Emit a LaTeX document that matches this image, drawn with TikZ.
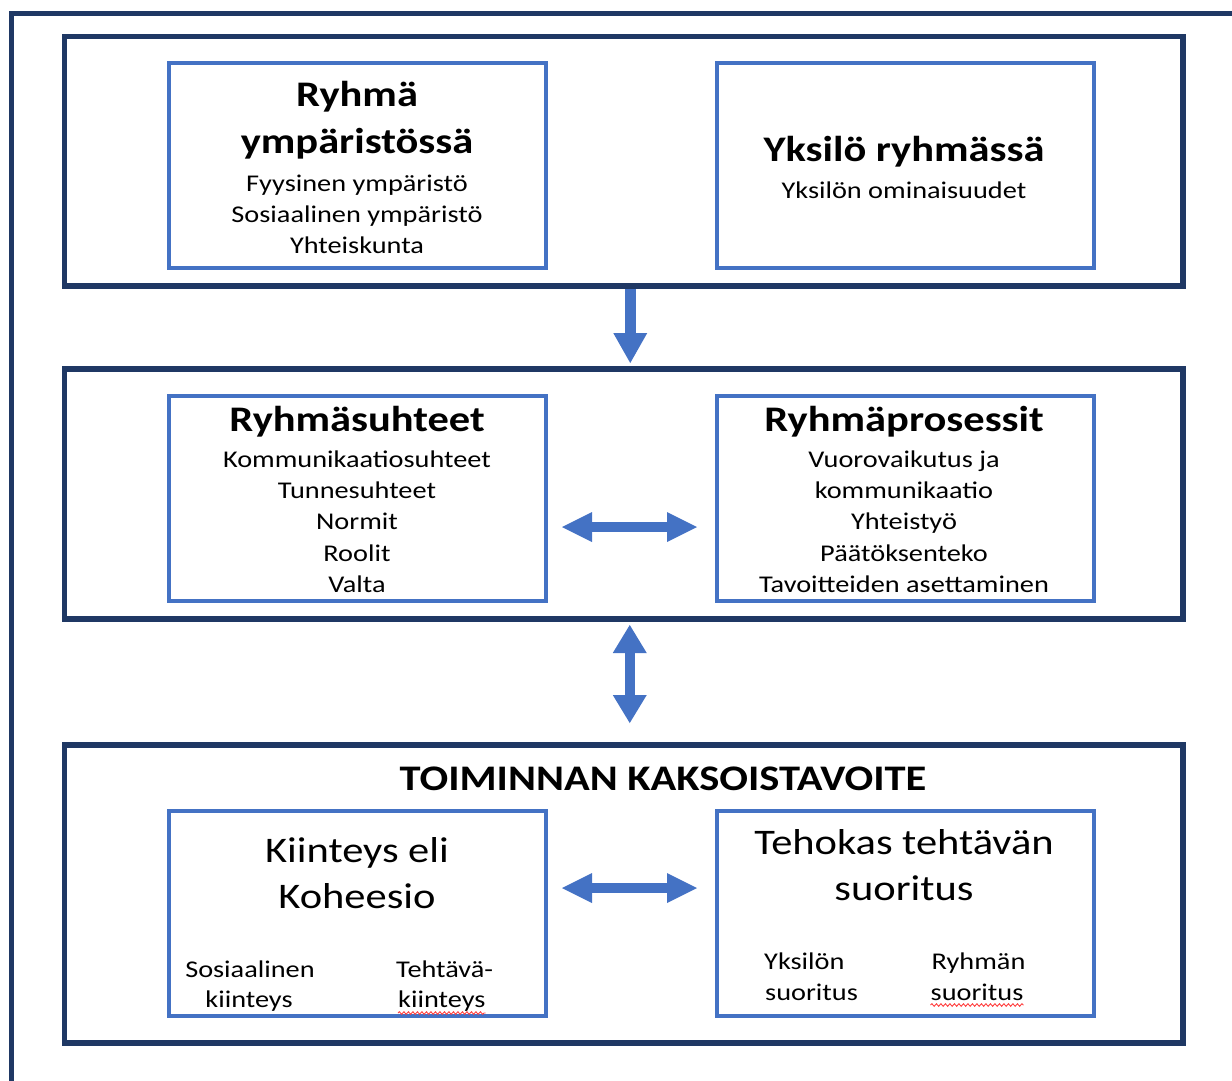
\documentclass[tikz,border=0pt]{standalone}
\usepackage{fontspec}
\setmainfont{Carlito}[FakeStretch=1.18]
\usetikzlibrary{arrows.meta,decorations.pathmorphing}
\definecolor{navy}{HTML}{1F3864}
\definecolor{boxblue}{HTML}{4472C4}
\definecolor{squigred}{HTML}{FF4040}

\begin{document}
\begin{tikzpicture}[x=1pt,y=-1pt,
  panel/.style={draw=navy, line width=5.5pt, inner sep=0pt, outer sep=0pt, minimum width=1118.5pt},
  card/.style={draw=boxblue, line width=4pt, inner sep=0pt, outer sep=0pt, minimum width=377pt, minimum height=205pt},
  head/.style={anchor=base, inner sep=0pt, font=\fontsize{36pt}{44pt}\selectfont\bfseries},
  big/.style={anchor=base, inner sep=0pt, font=\fontsize{36pt}{44pt}\selectfont},
  item/.style={anchor=base, inner sep=0pt, font=\fontsize{24pt}{31pt}\selectfont},
  downarrow/.style={draw=boxblue, line width=11pt,
    -{Triangle[length=30pt,width=34pt,line width=0pt]}},
  sidearrows/.style={draw=boxblue, line width=10pt,
    {Triangle[length=30pt,width=30pt,line width=0pt]}-{Triangle[length=30pt,width=30pt,line width=0pt]}},
  uparrows/.style={draw=boxblue, line width=10pt,
    {Triangle[length=28pt,width=34pt,line width=0pt]}-{Triangle[length=28pt,width=34pt,line width=0pt]}},
  squiggle/.style={draw=squigred, line width=0.9pt, decorate,
    decoration={snake, amplitude=1.3pt, segment length=4.5pt}},
]
\useasboundingbox (0,0) rectangle (1232,1080);

% outer frame, open to the right and bottom
\draw[navy, line width=5.5pt] (11.5,1090) -- (11.5,13.5) -- (1240,13.5);

% three panels
\node[panel, minimum height=249.5pt] (p1) at (623.75,161.25) {};
\node[panel, minimum height=250pt]   (p2) at (623.75,494) {};
\node[panel, minimum height=298pt]   (p3) at (623.75,894) {};

% inner cards
\node[card] (ca) at (357,165.75) {};
\node[card] (cb) at (905.5,165.75) {};
\node[card] (cc) at (357,498.5) {};
\node[card] (cd) at (905.5,498.5) {};
\node[card] (ce) at (357,913) {};
\node[card] (cf) at (905.5,913) {};

% card: group in its environment
\node[head] (a1) at (357,106.5) {Ryhmä};
\node[head] (a2) at (357,153.5) {ympäristössä};
\node[item] (a3) at (357,191) {Fyysinen ympäristö};
\node[item] (a4) at (357,222) {Sosiaalinen ympäristö};
\node[item] (a5) at (357,253) {Yhteiskunta};

% card: individual in the group
\node[head] (b1) at (904,161.5) {Yksilö ryhmässä};
\node[item] (b2) at (904,198) {Yksilön ominaisuudet};

% card: group relations
\node[head] (c1) at (357,431.5) {Ryhmäsuhteet};
\node[item] (c2) at (357,467.5) {Kommunikaatiosuhteet};
\node[item] (c3) at (357,498.7) {Tunnesuhteet};
\node[item] (c4) at (357,529.9) {Normit};
\node[item] (c5) at (357,561.1) {Roolit};
\node[item] (c6) at (357,592.5) {Valta};

% card: group processes
\node[head] (d1) at (904,431.5) {Ryhmäprosessit};
\node[item] (d2) at (904,467.5) {Vuorovaikutus ja};
\node[item] (d3) at (904,498.7) {kommunikaatio};
\node[item] (d4) at (904,529.9) {Yhteistyö};
\node[item] (d5) at (904,561.1) {Päätöksenteko};
\node[item] (d6) at (904,592.5) {Tavoitteiden asettaminen};

% bottom panel
\node[head] (t1) at (663,790) {TOIMINNAN KAKSOISTAVOITE};

\node[big] (e1) at (357,862.5) {Kiinteys eli};
\node[big] (e2) at (357,908.5) {Koheesio};
\node[item] (e3) at (250,977.5) {Sosiaalinen};
\node[item] (e4) at (249,1007.5) {kiinteys};
\node[item, anchor=base west] (e5) at (396,977.5) {Tehtävä-};
\node[item, anchor=base west] (e6) at (398,1007.5) {kiinteys};

\node[big] (f1) at (904,854) {Tehokas tehtävän};
\node[big] (f2) at (904,900) {suoritus};
\node[item, anchor=base west] (f3) at (764,969.5) {Yksilön};
\node[item, anchor=base west] (f4) at (765,1000.5) {suoritus};
\node[item, anchor=base west] (f5) at (931.5,969.5) {Ryhmän};
\node[item, anchor=base west] (f6) at (930.5,1000.5) {suoritus};

% spell-check marks
\draw[squiggle] ([yshift=-5.5pt]e6.base west) -- ([yshift=-5.5pt]e6.base east);
\draw[squiggle] ([yshift=-4.5pt]f6.base west) -- ([yshift=-4.5pt]f6.base east);

% connectors
\draw[downarrow, shorten <=2.75pt, shorten >=6pt]
  ([xshift=6.5pt]p1.south) -- ([xshift=6.5pt]p2.north);
\draw[sidearrows, shorten <=16.5pt, shorten >=20pt]
  ([yshift=-28.5pt]cc.east) -- ([yshift=-28.5pt]cd.west);
\draw[uparrows, shorten <=6pt, shorten >=22pt]
  ([xshift=6pt]p2.south) -- ([xshift=6pt]p3.north);
\draw[sidearrows, shorten <=16.5pt, shorten >=20pt]
  ([yshift=25pt]ce.east) -- ([yshift=25pt]cf.west);
\end{tikzpicture}
\end{document}
